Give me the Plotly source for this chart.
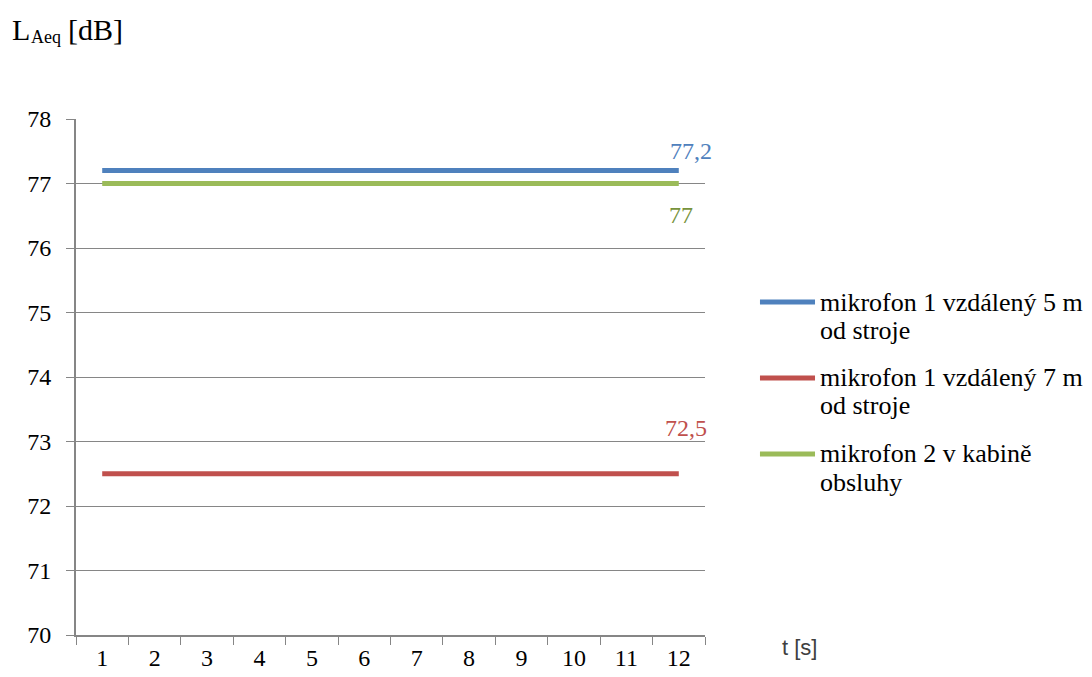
import plotly.graph_objects as go

# Equivalent sound level over time for three microphone positions
t = ["1", "2", "3", "4", "5", "6", "7", "8", "9", "10", "11", "12"]
mic1_5m = [77.2] * 12
mic1_7m = [72.5] * 12
mic2_cab = [77.0] * 12

legend_lines = [
    ("mikrofon 1 vzdálený 5 m", "od stroje"),
    ("mikrofon 1 vzdálený 7 m", "od stroje"),
    ("mikrofon 2 v kabině", "obsluhy"),
]
colors = ["#4F81BD", "#C0504D", "#9BBB59"]
series = [mic1_5m, mic1_7m, mic2_cab]

SERIF = "Liberation Serif"
AXIS = "#868686"

fig = go.Figure()
for (l1, l2), vals, col in zip(legend_lines, series, colors):
    fig.add_trace(go.Scatter(
        x=t, y=vals, mode="lines", name=f"{l1} {l2}",
        line=dict(color=col, width=5), showlegend=False,
    ))

# value labels next to the last point of each series
last = len(t) - 1
label_specs = [
    (mic1_5m, colors[0], 12, 20, "77,2"),
    (mic2_cab, "#77933C", 2, -31, "77"),
    (mic1_7m, colors[1], 7, 46, "72,5"),
]
for vals, col, dx, dy, txt in label_specs:
    fig.add_annotation(
        x=last, y=vals[-1], text=txt, showarrow=False,
        xshift=dx, yshift=dy,
        font=dict(family=SERIF, size=24, color=col),
    )

# legend keys drawn beside the plot, two text lines per entry
key_y = [0.6453, 0.4981, 0.3508]
line_gap = 0.0543
for (l1, l2), col, ky in zip(legend_lines, colors, key_y):
    fig.add_shape(type="line", xref="paper", yref="paper",
                  x0=1.0874, x1=1.1749, y0=ky, y1=ky,
                  line=dict(color=col, width=5))
    for txt, yy in ((l1, ky), (l2, ky - line_gap)):
        fig.add_annotation(
            xref="paper", yref="paper", x=1.1797, y=yy,
            xanchor="left", yanchor="middle", text=txt, showarrow=False,
            font=dict(family=SERIF, size=26, color="black"),
        )

# y-axis quantity: L with subscript Aeq, then the unit
title_parts = [
    ("L", -0.1049, 1.1725, 30),
    ("Aeq", -0.0747, 1.159, 18),
    ("[dB]", -0.0159, 1.1725, 30),
]
for txt, xx, yy, sz in title_parts:
    fig.add_annotation(
        xref="paper", yref="paper", x=xx, y=yy, xanchor="left", yanchor="middle",
        text=txt, showarrow=False,
        font=dict(family=SERIF, size=sz, color="black"),
    )

fig.add_annotation(
    xref="paper", yref="paper", x=1.119, y=-0.025, xanchor="left", yanchor="middle",
    text="t [s]", showarrow=False,
    font=dict(family="Liberation Sans", size=22, color="#404040"),
)

fig.update_layout(
    width=1092, height=677,
    margin=dict(l=76, r=387, t=119, b=42, autoexpand=False),
    paper_bgcolor="white", plot_bgcolor="white",
    showlegend=False,
    xaxis=dict(
        type="category", range=[-0.5, 11.5], tickson="boundaries",
        ticks="outside", ticklen=8,
        tickcolor=AXIS, showline=True, linecolor=AXIS, linewidth=2,
        showgrid=False, zeroline=False, automargin=False,
        tickfont=dict(family=SERIF, size=24, color="black"),
    ),
    yaxis=dict(
        range=[70, 78], dtick=1, ticks="outside", ticklen=8, tickcolor=AXIS,
        showline=True, linecolor=AXIS, linewidth=2,
        showgrid=True, gridcolor=AXIS, gridwidth=1, zeroline=False,
        automargin=False,
        tickfont=dict(family=SERIF, size=24, color="black"),
        ticklabelstandoff=10,
    ),
)

fig.write_html("out.html")
